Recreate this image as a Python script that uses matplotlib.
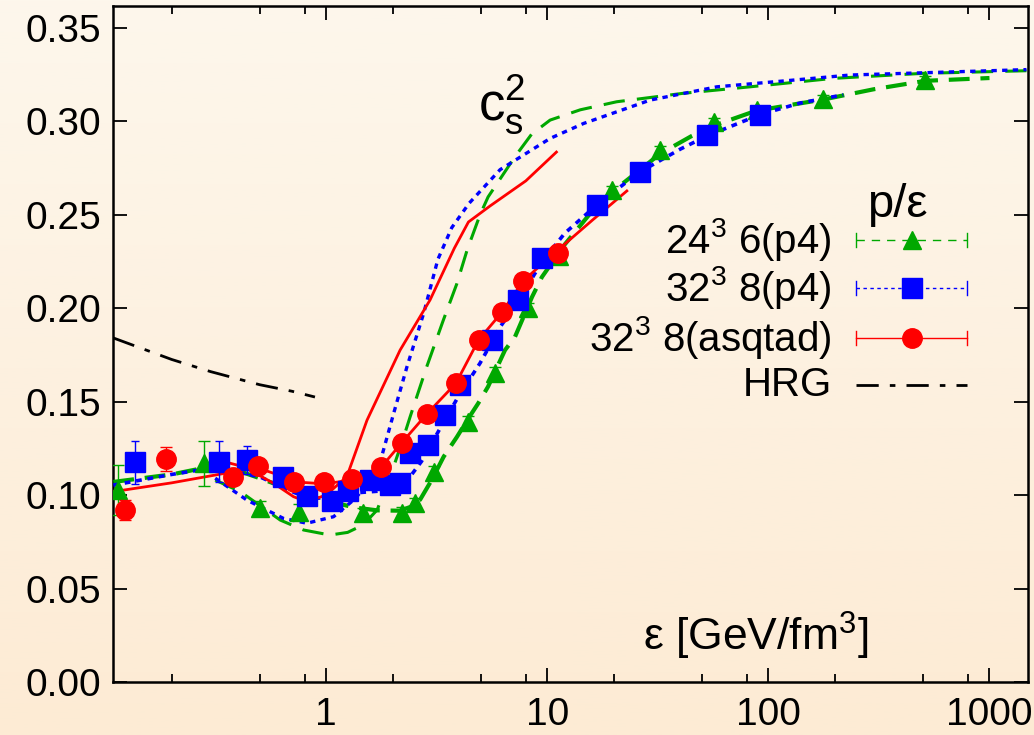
import numpy as np
import matplotlib.pyplot as plt
from matplotlib.colors import LinearSegmentedColormap

plt.rcParams['font.family'] = ['Liberation Sans', 'DejaVu Sans']
plt.rcParams['mathtext.fontset'] = 'custom'
plt.rcParams['mathtext.rm'] = 'Liberation Sans'

GREEN = '#00a800'
BLUE = '#0000ff'
RED = '#ff0000'

# ---- lattice data: p/eps vs energy density ----
# 24^3 x 6, p4
eps_p4_6 = [0.115, 0.279, 0.503, 0.757, 1.475, 2.2, 2.53, 3.06, 4.40, 5.81, 8.22,
            11.3, 19.6, 32.4, 56.5, 88.6, 177, 512]
pe_p4_6 = [0.1027, 0.117, 0.093, 0.091, 0.0902, 0.0905, 0.0955, 0.1125, 0.1392, 0.1654,
           0.1998, 0.228, 0.2631, 0.2845, 0.2996, 0.306, 0.312, 0.322]
err_p4_6 = [0.0135, 0.012, 0.004, 0.004, 0.003, 0.003, 0.003, 0.003, 0.003, 0.003,
            0.003, 0.002, 0.002, 0.002, 0.002, 0.002, 0.002, 0.002]

# 32^3 x 8, p4
eps_p4_8 = [0.137, 0.326, 0.438, 0.637, 0.818, 1.06, 1.26, 1.58, 1.95, 2.16, 2.40,
            2.90, 3.45, 4.04, 5.62, 7.41, 9.46, 16.7, 26.3, 52.7, 91.8]
pe_p4_8 = [0.1175, 0.1178, 0.1187, 0.1095, 0.0997, 0.0969, 0.1021, 0.1078, 0.1053,
           0.1062, 0.1223, 0.1267, 0.1428, 0.1588, 0.1829, 0.2043, 0.2266, 0.2551,
           0.2729, 0.2926, 0.3032]
err_p4_8 = [0.0115, 0.011, 0.0075, 0.004, 0.003, 0.003, 0.003, 0.003, 0.003, 0.003,
            0.003, 0.003, 0.003, 0.003, 0.003, 0.003, 0.002, 0.002, 0.002, 0.002, 0.002]

# 32^3 x 8, asqtad
eps_asq = [0.1225, 0.189, 0.381, 0.491, 0.717, 0.982, 1.315, 1.77, 2.2, 2.85, 3.86,
           4.89, 6.23, 7.8, 11.2]
pe_asq = [0.092, 0.1191, 0.1095, 0.1155, 0.1071, 0.1071, 0.1084, 0.1148, 0.128, 0.1433,
          0.1597, 0.1829, 0.1977, 0.2146, 0.2293]
err_asq = [0.0055, 0.0065, 0.003, 0.003, 0.003, 0.003, 0.003, 0.003, 0.003, 0.003,
           0.003, 0.003, 0.003, 0.003, 0.003]

# ---- interpolating curves for p/eps ----
fit_eps_p4_6 = [0.109, 0.2, 0.28, 0.32, 0.4, 0.5, 0.65, 0.82, 1.05, 1.33, 1.7, 2.16, 2.45,
                2.66, 3.0, 3.4, 3.9, 4.4, 4.87, 5.4, 6.44, 7.14, 8.54, 9.46, 12, 16, 19.6,
                26, 32.4, 45, 56.5, 88, 140, 177, 300, 512, 1000]
fit_pe_p4_6 = [0.107, 0.111, 0.1145, 0.1155, 0.113, 0.109, 0.104, 0.100, 0.0965, 0.0934,
               0.0918, 0.0916, 0.094, 0.0975, 0.108, 0.1205, 0.131, 0.141, 0.149, 0.158,
               0.1775, 0.1845, 0.206, 0.2166, 0.234, 0.252, 0.262, 0.2735, 0.2825, 0.292,
               0.2975, 0.3055, 0.3095, 0.3115, 0.317, 0.3215, 0.323]

fit_eps_p4_8 = [0.109, 0.2, 0.3, 0.4, 0.5, 0.7, 0.85, 1.1, 1.3, 1.7, 2.0, 2.3, 2.7, 3.38,
                3.95, 4.97, 6.12, 7.5, 9.5, 12, 16.7, 26, 40, 52.7, 92, 139, 218]
fit_pe_p4_8 = [0.1053, 0.111, 0.1143, 0.112, 0.1098, 0.1018, 0.098, 0.099, 0.101, 0.102,
               0.103, 0.107, 0.118, 0.1385, 0.1524, 0.1706, 0.1898, 0.205, 0.225, 0.24,
               0.255, 0.2725, 0.285, 0.292, 0.3035, 0.3096, 0.314]

fit_eps_asq = [0.109, 0.2, 0.423, 0.49, 0.6, 0.72, 0.98, 1.315, 1.77, 2.2, 2.85, 3.86,
               4.89, 6.23, 7.8, 10.3, 16, 22.9]
fit_pe_asq = [0.1018, 0.1065, 0.1134, 0.1145, 0.111, 0.107, 0.106, 0.108, 0.1148, 0.128,
              0.1433, 0.1597, 0.1829, 0.1977, 0.2146, 0.2274, 0.247, 0.2626]

# ---- speed of sound squared ----
cs_eps_p4_6 = [0.315, 0.409, 0.62, 0.79, 1.04, 1.25, 1.47, 1.7, 1.95, 2.2, 2.4, 2.85,
               3.39, 3.9, 4.34, 4.97, 5.4, 7.15, 8.5, 10.3, 14.1, 20.6, 41, 82.7, 196,
               500, 1470]
cs_p4_6 = [0.108, 0.1018, 0.0866, 0.0813, 0.0786, 0.080, 0.084, 0.092, 0.110, 0.128,
           0.142, 0.1686, 0.1936, 0.213, 0.231, 0.25, 0.2594, 0.281, 0.293, 0.3005,
           0.306, 0.3103, 0.3148, 0.3183, 0.3228, 0.3255, 0.3269]

cs_eps_p4_8 = [0.315, 0.438, 0.641, 0.818, 1.08, 1.33, 1.69, 2.02, 2.32, 2.76, 3.2,
               3.7, 4.43, 6.12, 10.3, 14.6, 29.2, 58.5, 139, 234, 1470]
cs_p4_8 = [0.109, 0.0973, 0.0875, 0.0849, 0.0884, 0.0973, 0.1107, 0.1437, 0.1686,
           0.1971, 0.226, 0.243, 0.256, 0.274, 0.2907, 0.2987, 0.3112, 0.3183, 0.3222,
           0.3246, 0.3275]

cs_eps_asq = [0.315, 0.423, 0.578, 0.712, 0.818, 1.0, 1.24, 1.53, 2.16, 2.95, 3.8, 4.4,
              5.5, 8.0, 11.0]
cs_asq = [0.1191, 0.1151, 0.1063, 0.0991, 0.0964, 0.1, 0.1098, 0.14, 0.1775, 0.2043,
          0.232, 0.246, 0.2545, 0.268, 0.2834]

# hadron resonance gas
hrg_eps = [0.109, 0.2, 0.3, 0.5, 0.7, 0.89]
hrg_pe = [0.184, 0.1725, 0.166, 0.159, 0.1555, 0.1524]

fig = plt.figure(figsize=(10.34, 7.35), dpi=100)

# soft vertical background gradient
bg = fig.add_axes([0, 0, 1, 1], zorder=-10)
cmap = LinearSegmentedColormap.from_list('bg', ['#fdebd4', '#fdf7ec'])
bg.imshow(np.linspace(0, 1, 256)[:, None], aspect='auto', cmap=cmap,
          origin='lower', extent=[0, 1, 0, 1])
bg.set_axis_off()

ax = fig.add_axes([0.1096, 0.0721, 0.885, 0.9197])
ax.set_facecolor('none')
ax.set_xscale('log')
ax.set_xlim(0.109, 1500)
ax.set_ylim(0, 0.3615)

# curves
ax.plot(fit_eps_p4_6, fit_pe_p4_6, color=GREEN, lw=3, dashes=(5, 2.6), zorder=3)
ax.plot(fit_eps_p4_8, fit_pe_p4_8, color=BLUE, lw=2.6, dashes=(1.6, 1.6), zorder=3)
ax.plot(fit_eps_asq, fit_pe_asq, color=RED, lw=2, zorder=3)
ax.plot(cs_eps_p4_6, cs_p4_6, color=GREEN, lw=2.2, dashes=(7, 4), zorder=3)
ax.plot(cs_eps_p4_8, cs_p4_8, color=BLUE, lw=2.4, dashes=(1.6, 1.6), zorder=3)
ax.plot(cs_eps_asq, cs_asq, color=RED, lw=2, zorder=3)
ax.plot(hrg_eps, hrg_pe, color='black', lw=2, dashes=(8, 4, 2, 4), zorder=3)

# data points
ax.errorbar(eps_p4_6, pe_p4_6, yerr=err_p4_6, fmt='^', color=GREEN, ms=13,
            elinewidth=1, capsize=4, capthick=1, zorder=4)
ax.errorbar(eps_p4_8, pe_p4_8, yerr=err_p4_8, fmt='s', color=BLUE, ms=14,
            elinewidth=1, capsize=3, capthick=1, zorder=5)
ax.errorbar(eps_asq, pe_asq, yerr=err_asq, fmt='o', color=RED, ms=14,
            elinewidth=1, capsize=4, capthick=1, zorder=6)

# axes styling
ax.set_xticks([1, 10, 100, 1000])
ax.set_xticklabels(['1', '10', '100', '1000'])
minor = [m * 10.0 ** k for k in range(-1, 4) for m in (2, 5, 8)]
ax.set_xticks([v for v in minor if 0.109 < v < 1500], minor=True)
ax.xaxis.set_minor_formatter(plt.NullFormatter())
ax.set_yticks(np.arange(0, 0.351, 0.05))
ax.set_yticklabels(['%.2f' % v for v in np.arange(0, 0.351, 0.05)])
ax.tick_params(which='both', direction='in', top=True, right=True, labelsize=28,
               width=1.3, colors='black')
ax.tick_params(which='major', length=10)
ax.tick_params(which='minor', length=6)
ax.tick_params(axis='y', pad=9)
ax.tick_params(axis='x', pad=11)
for s in ax.spines.values():
    s.set_linewidth(1.8)

# labels
ax.text(0.399, 0.831, r'$\mathregular{c_s^2}$', transform=ax.transAxes, fontsize=38)
ax.text(0.579, 0.047, r'ε [GeV/fm$\mathregular{^3}$]', transform=ax.transAxes,
        fontsize=32)

# legend drawn by hand
ax.text(0.857, 0.706, 'p/ε', transform=ax.transAxes, fontsize=34, ha='center',
        va='center')
rows = [
    (r'24$\mathregular{^3}$ 6(p4)', GREEN, '^', (6, 5), 0.654),
    (r'32$\mathregular{^3}$ 8(p4)', BLUE, 's', (2.5, 2.5), 0.583),
    (r'32$\mathregular{^3}$ 8(asqtad)', RED, 'o', None, 0.509),
]
x0, x1 = 0.812, 0.933
for label, col, mk, dash, yy in rows:
    ax.text(0.785, yy, label, transform=ax.transAxes, fontsize=29, ha='right',
            va='center')
    ln, = ax.plot([x0, x1], [yy, yy], transform=ax.transAxes, color=col, lw=1,
                  clip_on=False, zorder=7)
    if dash:
        ln.set_dashes(dash)
    ax.plot([x0, x0], [yy - 0.01, yy + 0.01], transform=ax.transAxes, color=col,
            lw=1, clip_on=False, zorder=7)
    ax.plot([x1, x1], [yy - 0.01, yy + 0.01], transform=ax.transAxes, color=col,
            lw=1, clip_on=False, zorder=7)
    ax.plot([(x0 + x1) / 2], [yy], transform=ax.transAxes, marker=mk, color=col,
            ms=14 if mk != '^' else 13, ls='none', clip_on=False, zorder=8)
ax.text(0.785, 0.439, 'HRG', transform=ax.transAxes, fontsize=29, ha='right',
        va='center')
ax.plot([x0, x1], [0.439, 0.439], transform=ax.transAxes, color='black', lw=2,
        dashes=(8, 4, 2, 4), zorder=7)

fig.savefig('out.png', dpi=100)
